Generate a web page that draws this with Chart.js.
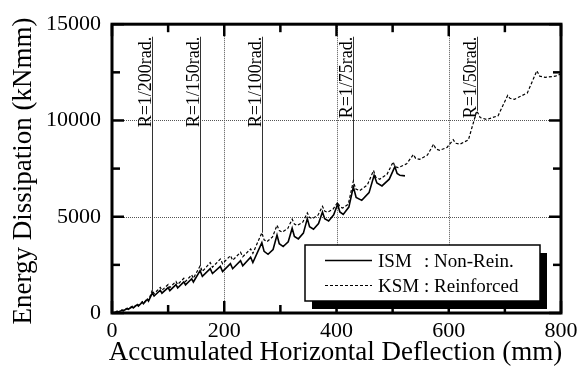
<!DOCTYPE html>
<html><head><meta charset="utf-8">
<script src="https://cdn.jsdelivr.net/npm/chart.js@4.4.0/dist/chart.umd.min.js"></script>
<style>html,body{margin:0;padding:0;background:#fff;overflow:hidden}#wrap{width:584px;height:367px;position:relative}</style>
</head><body><div id="wrap"><canvas id="c" width="584" height="367"></canvas></div>
<script>
// ---- data ----
const xTicks = [0, 200, 400, 600, 800];
const yTicks = [0, 5000, 10000, 15000];
const xMinorTicks = [100, 300, 500, 700];
const yMinorTicks = [2500, 7500, 12500];
const xTitle = 'Accumulated Horizontal Deflection (mm)';
const yTitle = 'Energy Dissipation (kNmm)';
const seriesNames = ['ISM', 'KSM'];
const seriesDesc = [': Non-Rein.', ': Reinforced'];

const ismX = [0,5,9,11,18,20,27,29,36,38,45,47,54,56,63,65,
  72,75,86,89,100,103,114,117,128,131,142,145,
  157,161,175,179,193,197,211,215,229,233,247,251,
  267,271,278,287,294,298,305,314,321,325,332,341,348,352,359,368,375,379,386,395,402,406,412,422,
  430,435,445,458,467,472,481,494,504,508,513,522];
const ismY = [0,25,80,55,140,115,225,195,320,260,430,360,560,480,710,620,
  1050,880,1180,1030,1320,1160,1470,1300,1620,1460,1780,1610,
  2200,1900,2300,2050,2420,2150,2560,2300,2720,2450,2900,2620,
  3650,3200,3050,3300,4050,3600,3450,3700,4400,3980,3850,4150,4900,4480,4350,4650,5250,4900,4780,5100,5650,5250,5120,5500,
  6550,6000,5850,6250,7150,6750,6600,6950,7600,7250,7150,7120];

const ksmX = [0,5,9,11,18,20,27,29,36,38,45,47,54,56,63,65,
  72,75,86,89,100,103,114,117,128,131,142,145,
  157,161,175,179,193,197,211,215,229,233,247,251,
  267,271,276,286,294,298,303,313,321,325,330,340,348,352,357,367,375,379,384,394,402,406,411,421,
  430,434,441,455,466,470,477,490,501,504,510,525,537,541,548,562,573,577,584,597,608,612,620,635,
  650,656,668,688,705,709,717,740,757,762,772,790,800];
const ksmY = [0,30,90,60,160,130,250,215,350,290,460,390,590,510,740,650,
  1200,1000,1330,1180,1480,1320,1640,1480,1800,1640,1980,1800,
  2450,2150,2620,2380,2800,2560,2980,2740,3150,2920,3330,3100,
  4170,3800,3700,3950,4560,4280,4200,4380,4870,4620,4550,4720,5200,4960,4900,5080,5540,5290,5230,5400,5750,5510,5450,5650,
  6850,6450,6350,6650,7400,7050,6950,7200,7850,7600,7550,7750,8230,8030,7980,8200,8770,8520,8450,8600,9000,8820,8770,8990,
  10500,10150,10050,10250,11300,11150,11100,11430,12580,12300,12240,12300,12420];

const driftLabels = ['R=1/200rad.', 'R=1/150rad.', 'R=1/100rad.', 'R=1/75rad.', 'R=1/50rad.'];
const driftX = [72, 157, 267, 430, 650];
const driftBottom = [1200, 2450, 4170, 6850, 10500];
const driftTop = 14350;

// ---- chart ----
const FONT = "'Liberation Serif', 'Times New Roman', serif";
const toPts = (xs, ys) => xs.map((x, i) => ({x: x, y: ys[i]}));

const framePlugin = {
  id: 'frame',
  beforeDatasetsDraw(chart) {
    const {ctx, chartArea: a, scales: {x, y}} = chart;
    ctx.save();
    ctx.strokeStyle = '#555';
    ctx.lineWidth = 1;
    ctx.setLineDash([1, 1]);
    xTicks.slice(1, -1).forEach(v => {
      const px = Math.round(x.getPixelForValue(v)) + 0.5;
      ctx.beginPath(); ctx.moveTo(px, a.top); ctx.lineTo(px, a.bottom); ctx.stroke();
    });
    yTicks.slice(1, -1).forEach(v => {
      const py = Math.round(y.getPixelForValue(v)) + 0.5;
      ctx.beginPath(); ctx.moveTo(a.left, py); ctx.lineTo(a.right, py); ctx.stroke();
    });
    ctx.setLineDash([]);
    ctx.strokeStyle = '#333';
    ctx.lineWidth = 1;
    ctx.fillStyle = '#000';
    ctx.font = '18px ' + FONT;
    driftX.forEach((v, i) => {
      const px = Math.round(x.getPixelForValue(v)) + 0.5;
      const top = y.getPixelForValue(driftTop);
      ctx.beginPath(); ctx.moveTo(px, top); ctx.lineTo(px, y.getPixelForValue(driftBottom[i])); ctx.stroke();
      ctx.save();
      ctx.translate(px - 2, top);
      ctx.rotate(-Math.PI / 2);
      ctx.textAlign = 'right';
      ctx.textBaseline = 'alphabetic';
      ctx.fillText(driftLabels[i], 0, 0);
      ctx.restore();
    });
    ctx.restore();
  },
  afterDatasetsDraw(chart) {
    const {ctx, chartArea: a, scales: {x, y}} = chart;
    ctx.save();
    ctx.strokeStyle = '#000';
    ctx.lineWidth = 2.5;
    const tx = (v, len) => {
      const px = x.getPixelForValue(v);
      ctx.beginPath(); ctx.moveTo(px, a.bottom); ctx.lineTo(px, a.bottom - len); ctx.stroke();
      ctx.beginPath(); ctx.moveTo(px, a.top); ctx.lineTo(px, a.top + len); ctx.stroke();
    };
    const ty = (v, len) => {
      const py = y.getPixelForValue(v);
      ctx.beginPath(); ctx.moveTo(a.left, py); ctx.lineTo(a.left + len, py); ctx.stroke();
      ctx.beginPath(); ctx.moveTo(a.right, py); ctx.lineTo(a.right - len, py); ctx.stroke();
    };
    xTicks.forEach(v => tx(v, 12));
    xMinorTicks.forEach(v => tx(v, 8));
    yTicks.forEach(v => ty(v, 12));
    yMinorTicks.forEach(v => ty(v, 8));
    ctx.lineWidth = 3;
    ctx.strokeRect(a.left, a.top, a.right - a.left, a.bottom - a.top);
    // legend with shadow
    const lx = a.right - 256, ly = a.bottom - 68, lw = 235, lh = 56;
    ctx.fillStyle = '#000';
    ctx.fillRect(lx + 7, ly + 8, lw, lh);
    ctx.fillStyle = '#fff';
    ctx.fillRect(lx, ly, lw, lh);
    ctx.lineWidth = 1.5;
    ctx.strokeRect(lx, ly, lw, lh);
    const ds = chart.data.datasets;
    ctx.font = '19px ' + FONT;
    ctx.fillStyle = '#000';
    ctx.textBaseline = 'alphabetic';
    [0, 1].forEach(i => {
      const cy = ly + 15 + i * 25;
      ctx.save();
      ctx.strokeStyle = '#000';
      ctx.lineWidth = ds[i].borderWidth;
      ctx.setLineDash(ds[i].borderDash || []);
      ctx.beginPath(); ctx.moveTo(lx + 20, cy + 0.5); ctx.lineTo(lx + 67, cy + 0.5); ctx.stroke();
      ctx.restore();
      ctx.textAlign = 'left';
      ctx.fillText(seriesNames[i], lx + 73, cy + 7);
      ctx.fillText(seriesDesc[i], lx + 119, cy + 7);
    });
    ctx.restore();
  },
  afterDraw(chart) {
    const {ctx, chartArea: a} = chart;
    ctx.save();
    ctx.fillStyle = '#000';
    ctx.font = '27px ' + FONT;
    ctx.textAlign = 'center';
    ctx.textBaseline = 'alphabetic';
    ctx.fillText(xTitle, (a.left + a.right) / 2 - 1, 360);
    ctx.translate(31, 171);
    ctx.rotate(-Math.PI / 2);
    ctx.fillText(yTitle, 0, 0);
    ctx.restore();
  }
};

new Chart(document.getElementById('c'), {
  type: 'line',
  data: {
    datasets: [
      {label: seriesNames[0], data: toPts(ismX, ismY), borderColor: '#000', borderWidth: 1.6, pointRadius: 0, tension: 0, fill: false},
      {label: seriesNames[1], data: toPts(ksmX, ksmY), borderColor: '#000', borderWidth: 1.2, borderDash: [3, 2], pointRadius: 0, tension: 0, fill: false}
    ]
  },
  options: {
    responsive: false,
    animation: false,
    devicePixelRatio: 1,
    layout: {padding: {top: 16, right: 23, bottom: 0, left: 0}},
    plugins: {legend: {display: false}, tooltip: {enabled: false}},
    scales: {
      x: {
        type: 'linear', min: 0, max: 800,
        afterBuildTicks: s => { s.ticks = xTicks.map(v => ({value: v})); },
        afterFit: s => { s.height = 54; },
        grid: {display: false, drawTicks: false},
        border: {display: false},
        ticks: {font: {family: FONT, size: 22}, color: '#000', padding: 5, maxRotation: 0, autoSkip: false, callback: v => String(v)}
      },
      y: {
        type: 'linear', min: 0, max: 15000,
        afterBuildTicks: s => { s.ticks = yTicks.map(v => ({value: v})); },
        afterFit: s => { s.width = 112; },
        grid: {display: false, drawTicks: false},
        border: {display: false},
        ticks: {font: {family: FONT, size: 22}, color: '#000', padding: 11, autoSkip: false, callback: v => String(v)}
      }
    }
  },
  plugins: [framePlugin]
});
</script>
</body></html>
